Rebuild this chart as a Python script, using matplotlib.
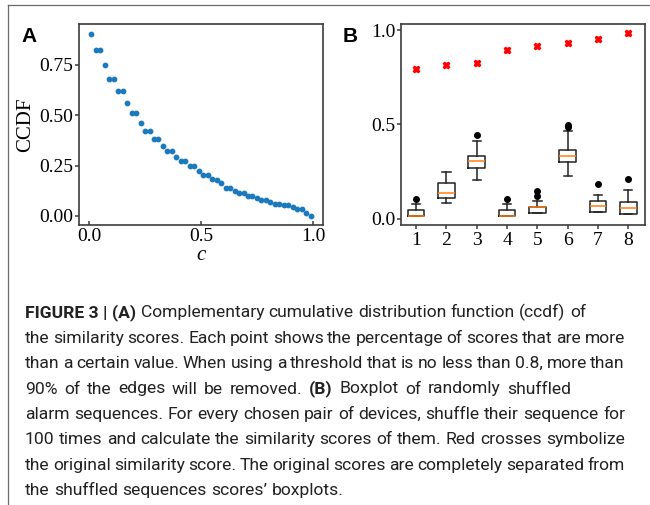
import matplotlib
matplotlib.use('Agg')
import matplotlib.pyplot as plt
from matplotlib.lines import Line2D

# panel A: ccdf of similarity scores
c_vals = [0.01, 0.03, 0.05, 0.07, 0.09, 0.11, 0.13, 0.15, 0.17, 0.19,
          0.21, 0.23, 0.25, 0.27, 0.29, 0.31, 0.33, 0.35, 0.37, 0.39,
          0.41, 0.43, 0.45, 0.47, 0.49, 0.51, 0.53, 0.55, 0.57, 0.59,
          0.61, 0.63, 0.65, 0.67, 0.69, 0.71, 0.73, 0.75, 0.77, 0.79,
          0.81, 0.83, 0.85, 0.87, 0.89, 0.91, 0.93, 0.95, 0.97, 0.99]
ccdf = [0.905, 0.826, 0.826, 0.748, 0.681, 0.681, 0.618, 0.618, 0.562, 0.511,
        0.511, 0.462, 0.424, 0.424, 0.382, 0.382, 0.348, 0.320, 0.320, 0.295,
        0.272, 0.272, 0.247, 0.247, 0.224, 0.203, 0.203, 0.181, 0.176, 0.162,
        0.137, 0.137, 0.124, 0.112, 0.112, 0.101, 0.101, 0.091, 0.079, 0.079,
        0.068, 0.059, 0.059, 0.053, 0.053, 0.043, 0.033, 0.033, 0.016, 0.0]

# panel B: shuffled score boxplots + original scores
pairs = [1, 2, 3, 4, 5, 6, 7, 8]
original = [0.794, 0.813, 0.824, 0.892, 0.913, 0.933, 0.954, 0.984]
q1 = [0.016, 0.109, 0.268, 0.016, 0.030, 0.300, 0.035, 0.028]
med = [0.016, 0.137, 0.309, 0.016, 0.065, 0.332, 0.067, 0.060]
q3 = [0.048, 0.189, 0.332, 0.048, 0.065, 0.365, 0.097, 0.092]
whislo = [0.016, 0.085, 0.208, 0.016, 0.030, 0.226, 0.035, 0.028]
whishi = [0.079, 0.247, 0.414, 0.079, 0.095, 0.466, 0.127, 0.152]
fliers = [[0.106], [], [0.443], [0.108], [0.122, 0.150], [0.485, 0.496], [0.185], [0.210]]

caption = [
    ([("FIGURE 3 | (A)", True), ("Complementary cumulative distribution function (ccdf) of", False)], None),
    ([("the similarity scores. Each point shows the percentage of scores that are more", False)], 625),
    ([("than a certain value. When using a threshold that is no less than 0.8, more than", False)], 625),
    ([("90% of the edges will be removed.", False), ("(B)", True), ("Boxplot of randomly shuffled", False)], 571),
    ([("alarm sequences. For every chosen pair of devices, shuffle their sequence for", False)], 625),
    ([("100 times and calculate the similarity scores of them. Red crosses symbolize", False)], 625),
    ([("the original similarity score. The original scores are completely separated from", False)], 625),
    ([("the shuffled sequences scores\u2019 boxplots.", False)], None),
]

W, H = 650, 505
fig = plt.figure(figsize=(6.5, 5.05), dpi=100)
spine_col = '#3c3c3c'
serif = 'Liberation Serif'

def style_axes(ax):
    for s in ax.spines.values():
        s.set_color(spine_col)
        s.set_linewidth(1.2)
    ax.tick_params(colors=spine_col, labelcolor='black', labelsize=14, width=1.1, length=3)
    for lab in ax.get_xticklabels() + ax.get_yticklabels():
        lab.set_family(serif)

axA = fig.add_axes([79 / W, 1 - 225 / H, 244 / W, 201 / H])
axA.scatter(c_vals, ccdf, s=10, color='#1a7abc', zorder=3)
axA.set_xlim(-0.045, 1.045)
axA.set_ylim(-0.045, 0.953)
axA.set_xticks([0.0, 0.5, 1.0])
axA.set_yticks([0.0, 0.25, 0.5, 0.75])
axA.set_yticklabels(['0.00', '0.25', '0.50', '0.75'])
style_axes(axA)
axA.tick_params(axis='x', direction='in', pad=2)
axA.tick_params(axis='y', direction='out', pad=1)
axA.set_ylabel('CCDF', family=serif, fontsize=15, labelpad=3)
axA.set_xlabel('c', family=serif, fontsize=15, style='italic', labelpad=1)

axB = fig.add_axes([401 / W, 1 - 225 / H, 244 / W, 201 / H])
stats = []
for i in range(len(pairs)):
    stats.append(dict(med=med[i], q1=q1[i], q3=q3[i], whislo=whislo[i],
                      whishi=whishi[i], fliers=fliers[i], label=str(pairs[i])))
axB.bxp(stats, positions=pairs, widths=0.55,
        boxprops=dict(color='#222222', linewidth=1.1),
        whiskerprops=dict(color='#222222', linewidth=1.1),
        capprops=dict(color='#222222', linewidth=1.1),
        medianprops=dict(color='#ff7f0e', linewidth=1.1),
        flierprops=dict(marker='o', markerfacecolor='black', markeredgecolor='black', markersize=4))
axB.plot(pairs, original, linestyle='none', marker='X', color='red', markersize=5, zorder=3)
axB.set_xlim(0.5, 8.55)
axB.set_ylim(-0.032, 1.032)
axB.set_yticks([0.0, 0.5, 1.0])
style_axes(axB)
axB.tick_params(axis='x', direction='out', pad=2)
axB.tick_params(axis='y', direction='out', pad=1)

# panel letters
fig.text(21 / W, 1 - 42 / H, 'A', family='Liberation Sans', weight='bold', fontsize=15, va='baseline')
fig.text(343 / W, 1 - 42 / H, 'B', family='Liberation Sans', weight='bold', fontsize=15, va='baseline')

# frame lines
fig.add_artist(Line2D([8 / W, 1], [1 - 5 / H, 1 - 5 / H], color='#6a6a6a', lw=0.9))
fig.add_artist(Line2D([8 / W, 8 / W], [0, 1 - 5 / H], color='#6a6a6a', lw=0.9))

# caption, placed word by word so justified lines fill the column
renderer = fig.canvas.get_renderer()
cap_font = 'Roboto'
cap_size = 12.6
probe = fig.text(0, 0, 'a a', fontsize=cap_size, family=cap_font)
w2 = probe.get_window_extent(renderer).width
probe.set_text('aa')
space_w = w2 - probe.get_window_extent(renderer).width
probe.remove()

left = 25
base = 317.3
step = 25.4
for li, (parts, right) in enumerate(caption):
    y = 1 - (base + li * step) / H
    words = []
    for txt, bold in parts:
        if bold:
            words.append((txt, True))
        else:
            words += [(w, False) for w in txt.split(' ')]
    arts = []
    widths = []
    for w, bold in words:
        t = fig.text(0, y, w, fontsize=cap_size, family=cap_font,
                     weight='bold' if bold else 'normal', va='baseline', color='#222222')
        arts.append(t)
        widths.append(t.get_window_extent(renderer).width)
    if right is not None and len(words) > 1:
        gap = (right - left - sum(widths)) / (len(words) - 1)
    else:
        gap = space_w
    x = left
    for t, w in zip(arts, widths):
        t.set_x(x / W)
        x += w + gap

fig.savefig('out.png', dpi=100)
